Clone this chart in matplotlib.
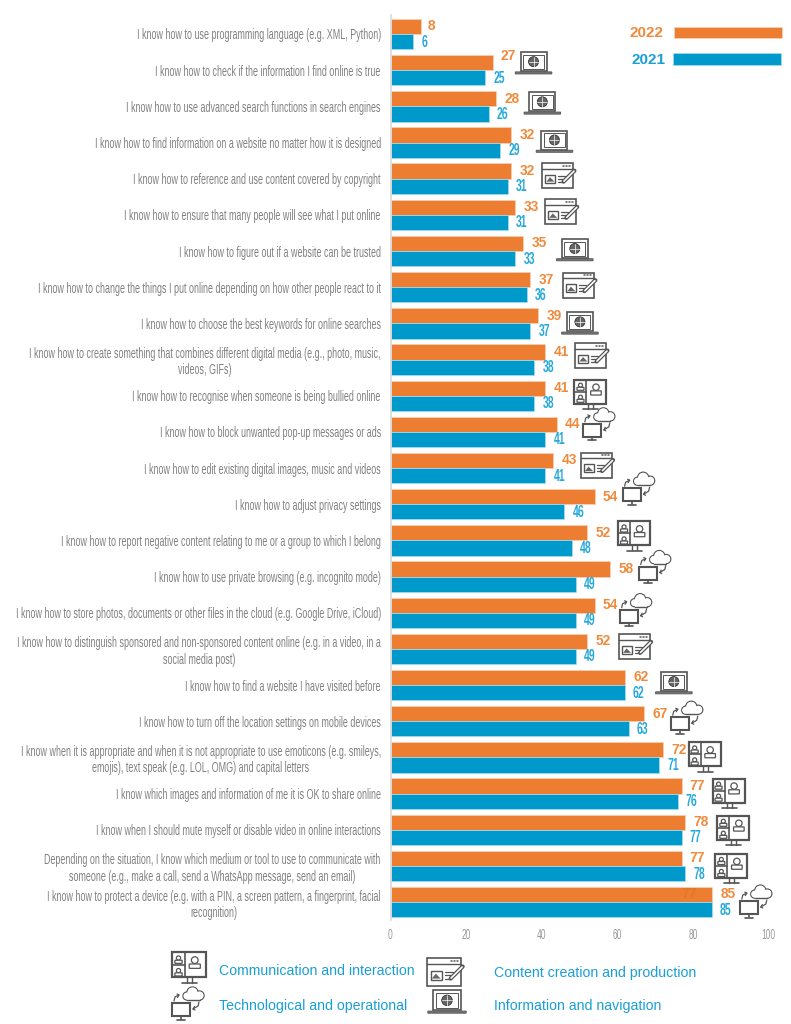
import os
import tempfile
import matplotlib
matplotlib.use("Agg")
import matplotlib.pyplot as plt
from matplotlib.patches import Rectangle, Circle, FancyBboxPatch, Polygon
from matplotlib import font_manager as fm
from fontTools.ttLib import TTFont


def squeeze_font(family, weight, k, new_name):
    # none of the installed fonts is condensed, so make a narrowed copy of one
    src = fm.findfont(fm.FontProperties(family=family, weight=weight))
    font = TTFont(src)
    glyf = font["glyf"]
    for name in font.getGlyphOrder():
        g = glyf[name]
        if g.isComposite():
            for c in g.components:
                c.x = round(c.x * k)
        elif g.numberOfContours > 0:
            g.coordinates.scale((k, 1))
            g.coordinates.toInt()
        g.removeHinting()
        adv, lsb = font["hmtx"].metrics[name]
        font["hmtx"].metrics[name] = (round(adv * k), round(lsb * k))
    for tag in ["hdmx", "LTSH", "VDMX", "fpgm", "prep", "cvt ", "kern", "GPOS", "GSUB", "gasp"]:
        if tag in font:
            del font[tag]
    for rec in font["name"].names:
        if rec.nameID in (1, 16):
            rec.string = new_name
        elif rec.nameID in (4, 6):
            rec.string = new_name + " " + weight
    path = os.path.join(tempfile.gettempdir(), f"{new_name}-{weight}.ttf".replace(" ", ""))
    font.save(path)
    fm.fontManager.addfont(path)


squeeze_font("Liberation Sans", "regular", 0.60, "Squeezed Sans")
squeeze_font("Liberation Sans", "bold", 0.60, "Squeezed Sans")
squeeze_font("Liberation Sans", "bold", 0.90, "Semi Sans")
NARROW = "Squeezed Sans"
SEMI = "Semi Sans"
WIDE = "Liberation Sans"

labels = [
    "I know how to use programming language (e.g. XML, Python)",
    "I know how to check if the information I find online is true",
    "I know how to use advanced search functions in search engines",
    "I know how to find information on a website no matter how it is designed",
    "I know how to reference and use content covered by copyright",
    "I know how to ensure that many people will see what I put online",
    "I know how to figure out if a website can be trusted",
    "I know how to change the things I put online depending on how other people react to it",
    "I know how to choose the best keywords for online searches",
    "I know how to create something that combines different digital media (e.g., photo, music,\nvideos, GIFs)",
    "I know how to recognise when someone is being bullied online",
    "I know how to block unwanted pop-up messages or ads",
    "I know how to edit existing digital images, music and videos",
    "I know how to adjust privacy settings",
    "I know how to report negative content relating to me or a group to which I belong",
    "I know how to use private browsing (e.g. incognito mode)",
    "I know how to store photos, documents or other files in the cloud (e.g. Google Drive, iCloud)",
    "I know how to distinguish sponsored and non-sponsored content online (e.g. in a video, in a\nsocial media post)",
    "I know how to find a website I have visited before",
    "I know how to turn off the location settings on mobile devices",
    "I know when it is appropriate and when it is not appropriate to use emoticons (e.g. smileys,\nemojis), text speak (e.g. LOL, OMG) and capital letters",
    "I know which images and information of me it is OK to share online",
    "I know when I should mute myself or disable video in online interactions",
    "Depending on the situation, I know which medium or tool to use to communicate with\nsomeone (e.g., make a call, send a WhatsApp message, send an email)",
    "I know how to protect a device (e.g. with a PIN, a screen pattern, a fingerprint, facial\nrecognition)",
]
y2022 = [8, 27, 28, 32, 32, 33, 35, 37, 39, 41, 41, 44, 43, 54, 52, 58, 54, 52, 62, 67, 72, 77, 78, 77, 85]
y2021 = [6, 25, 26, 29, 31, 31, 33, 36, 37, 38, 38, 41, 41, 46, 48, 49, 49, 49, 62, 63, 71, 76, 77, 78, 85]
icons = [None, "nav", "nav", "nav", "make", "make", "nav", "make", "nav", "make", "talk", "tech", "make",
         "tech", "talk", "tech", "tech", "make", "nav", "tech", "talk", "talk", "talk", "talk", "tech"]
xticks = [0, 20, 40, 60, 80, 100]

# hand placed icon gaps in the original, px from the longest bar / row centre
icon_dx = [0, 41, 46, 43, 46, 45, 52, 48, 42, 45, 45, 42, 43, 44, 47, 45, 41, 47, 49, 43, 42, 47, 48, 46, 44]
icon_dy = [0, -5, -1, 1, -3, -3, 1, -2, 2, -4, -1, -8, -3, -16, -4, -10, -3, -2, 0, -4, 0, 0, 1, 3, -1]

ORANGE = "#ed7d31"
BLUE = "#0099cc"
LABEL_ORANGE = "#f08a3c"
LABEL_BLUE = "#25a9dc"
GREY = "#808080"
DARK = "#555555"
W, H = 791, 1024

fig = plt.figure(figsize=(W / 100, H / 100), dpi=100)
top, bottom = 15, 920
left, right = 390.5, 768.5
ax = fig.add_axes([left / W, 1 - bottom / H, (right - left) / W, (bottom - top) / H])
pitch = 36.17
ax.set_xlim(0, 100)
ax.set_ylim((bottom - 34) / pitch, (top - 34) / pitch)

rows = list(range(len(labels)))
bh = 15.2 / pitch
ax.barh([r - bh / 2 for r in rows], y2022, height=bh, color=ORANGE, edgecolor="#f8d3b8", linewidth=0.5)
ax.barh([r + bh / 2 for r in rows], y2021, height=bh, color=BLUE, edgecolor="#a9dff0", linewidth=0.5)

for s in ["top", "right", "bottom"]:
    ax.spines[s].set_visible(False)
ax.spines["left"].set_color("#d9d9d9")
ax.spines["left"].set_linewidth(1.2)
ax.set_xticks(xticks)
ax.set_yticks(rows)
ax.set_yticklabels(labels, fontfamily=NARROW, fontsize=10.7, color=GREY, multialignment="center", linespacing=1.2)
ax.tick_params(axis="y", length=0, pad=7)
ax.tick_params(axis="x", length=0, pad=6, labelsize=10, labelcolor="#999999")
for t in ax.get_xticklabels():
    t.set_fontfamily(NARROW)

px = 1 / 3.78
for r in rows:
    nudge = -7 / pitch if r == 1 else 0
    ax.text(y2022[r] + (11 if y2022[r] < 10 else 16) * px, r - bh / 2 + nudge, str(y2022[r]),
            color=LABEL_ORANGE, fontfamily=SEMI, fontweight="bold", fontsize=11, ha="center", va="center")
    ax.text(y2021[r] + (11 if y2021[r] < 10 else 14) * px, r + bh / 2 + 0.5 / pitch, str(y2021[r]),
            color=LABEL_BLUE, fontfamily=NARROW, fontweight="bold", fontsize=12.5, ha="center", va="center")
# leftover label showing through the last bar in the original
ax.text(79, 24 - bh / 2, "77", color="#e57625", fontfamily=SEMI, fontweight="bold", fontsize=11, ha="center", va="center")

# overlay in pixel coordinates for the icons and the legend
ov = fig.add_axes([0, 0, 1, 1], facecolor="none")
ov.set_xlim(0, W)
ov.set_ylim(H, 0)
ov.axis("off")


def box(x, y, w, h, lw=1.1, fc="white", ec=DARK):
    ov.add_patch(Rectangle((x, y), w, h, fc=fc, ec=ec, lw=lw))


def line(xs, ys, lw=1.0, c=DARK):
    ov.plot(xs, ys, color=c, lw=lw, solid_capstyle="round")


def nav_icon(cx, cy, s=1.0):
    box(cx - 13 * s, cy - 13 * s, 26 * s, 19 * s, lw=1.2)
    box(cx - 10.5 * s, cy - 10.5 * s, 21 * s, 14 * s, lw=0.7)
    ov.add_patch(Circle((cx, cy - 3.5 * s), 5 * s, fc="#666666", ec="#333333", lw=0.6))
    line([cx - 5 * s, cx + 5 * s], [cy - 3.5 * s, cy - 3.5 * s], 0.5, "white")
    line([cx, cx], [cy - 8.5 * s, cy + 1.5 * s], 0.5, "white")
    ov.add_patch(FancyBboxPatch((cx - 18 * s, cy + 7 * s), 36 * s, 1.5 * s, boxstyle="round,pad=0.3", fc="#777777", ec=DARK, lw=0.6))


def make_icon(cx, cy, s=1.0):
    box(cx - 15.5 * s, cy - 12.5 * s, 31 * s, 25 * s, lw=1.2)
    line([cx - 15.5 * s, cx + 15.5 * s], [cy - 7 * s, cy - 7 * s])
    for dx in (6, 9, 12):
        line([(cx + dx * s), (cx + (dx + 1) * s)], [cy - 10 * s, cy - 10 * s], 1.1)
    box(cx - 12 * s, cy - 1 * s, 10 * s, 8 * s, lw=1.0)
    ov.add_patch(Polygon([(cx - 11 * s, cy + 6 * s), (cx - 7.5 * s, cy + 1.5 * s), (cx - 3 * s, cy + 6 * s)], fc="#666666", ec="none"))
    for yy, x1 in ((0, 8), (3, 6), (6, 4)):
        line([cx + 1 * s, cx + x1 * s], [cy + yy * s, cy + yy * s], 0.9)
    line([cx + 6 * s, cx + 17 * s], [cy + 6 * s, cy - 5 * s], 3.0)
    line([cx + 6.5 * s, cx + 16.5 * s], [cy + 5.5 * s, cy - 4.5 * s], 1.2, "white")


def talk_icon(cx, cy, s=1.0):
    box(cx - 16 * s, cy - 15 * s, 32 * s, 24 * s, lw=1.6)
    line([cx - 4 * s, cx - 4 * s], [cy - 15 * s, cy + 9 * s], 1.2)
    line([cx - 16 * s, cx - 4 * s], [cy - 3 * s, cy - 3 * s], 1.2)
    for dx, dy, r_ in ((-10, -9.5, 2.0), (-10, 2.5, 2.0), (5.5, -7.5, 3.2)):
        ov.add_patch(Circle((cx + dx * s, cy + dy * s), r_ * s, fc="white", ec=DARK, lw=0.9))
        ov.add_patch(FancyBboxPatch((cx + (dx - r_ * 1.5) * s, cy + (dy + r_ * 1.3) * s), r_ * 3 * s, r_ * 1.0 * s,
                                    boxstyle="round,pad=0.5", fc="white", ec=DARK, lw=0.9))
    line([cx - 2 * s, cx - 2 * s], [cy + 9 * s, cy + 14 * s], 1.0)
    line([cx + 3 * s, cx + 3 * s], [cy + 9 * s, cy + 14 * s], 1.0)
    line([cx - 7 * s, cx + 8 * s], [cy + 14.5 * s, cy + 14.5 * s], 1.2)


def tech_icon(cx, cy, s=1.0):
    # cy is the top of the small monitor, the cloud sits above it
    mx = cx - 7 * s
    box(mx - 9 * s, cy, 18 * s, 13 * s, lw=1.5)
    line([mx, mx], [cy + 13 * s, cy + 16 * s], 1.2)
    line([mx - 4 * s, mx + 4 * s], [cy + 16.5 * s, cy + 16.5 * s], 1.2)
    kx, ky = mx + 12 * s, cy - 9 * s
    lobes = [(-6, 2, 4.0), (-0.5, -1.5, 5.5), (6.5, 1.5, 4.5)]
    for dx, dy, r_ in lobes:
        ov.add_patch(Circle((kx + dx * s, ky + dy * s), r_ * s, fc="white", ec=DARK, lw=1.0))
    box(kx - 6 * s, ky + 2 * s, 12.5 * s, 4 * s, lw=0, ec="white")
    line([kx - 6 * s, kx + 6.5 * s], [ky + 6 * s, ky + 6 * s], 1.0)
    for dx, dy, r_ in lobes:
        ov.add_patch(Circle((kx + dx * s, ky + dy * s), (r_ - 0.5) * s, fc="white", ec="none"))
    # circular arrows
    line([mx - 7 * s, mx - 6 * s, mx - 2 * s], [cy - 2 * s, cy - 6 * s, cy - 8 * s], 0.9)
    line([mx - 4 * s, mx - 2 * s, mx - 3.5 * s], [cy - 9 * s, cy - 8 * s, cy - 5.5 * s], 0.9)
    line([mx + 18 * s, mx + 17 * s, mx + 12 * s], [cy - 1 * s, cy + 3 * s, cy + 6 * s], 0.9)
    line([mx + 14 * s, mx + 12 * s, mx + 13.5 * s], [cy + 7 * s, cy + 6 * s, cy + 3.5 * s], 0.9)


ICON = {"nav": nav_icon, "make": make_icon, "talk": talk_icon, "tech": tech_icon}

fig.canvas.draw()
for r, kind in zip(rows, icons):
    if kind is None:
        continue
    end = max(y2022[r], y2021[r])
    xd, yd = ax.transData.transform((end, r))
    ICON[kind](xd + icon_dx[r], H - yd + icon_dy[r])

# colour key top right
ov.add_patch(Rectangle((674, 27), 108, 11, fc=ORANGE, ec="#f8d3b8", lw=0.5))
ov.add_patch(Rectangle((673, 53), 108, 12, fc=BLUE, ec="#a9dff0", lw=0.5))
ov.text(647, 33, "2022", color=LABEL_ORANGE, fontfamily=WIDE, fontweight="bold", fontsize=11, ha="center", va="center")
ov.text(648, 60, "2021", color="#1a9fd4", fontfamily=WIDE, fontweight="bold", fontsize=11, ha="center", va="center")

# competence key bottom
talk_icon(189, 968, 1.05)
make_icon(444, 972, 1.1)
tech_icon(188, 1003, 1.0)
nav_icon(447, 1004, 1.05)
for x, y, s in ((219, 971, "Communication and interaction"), (494, 973, "Content creation and production"),
                (219, 1006, "Technological and operational"), (494, 1006, "Information and navigation")):
    ov.text(x, y, s, color="#1a9fd4", fontfamily=WIDE, fontsize=10.2, ha="left", va="center")

fig.savefig("out.png", dpi=100)
